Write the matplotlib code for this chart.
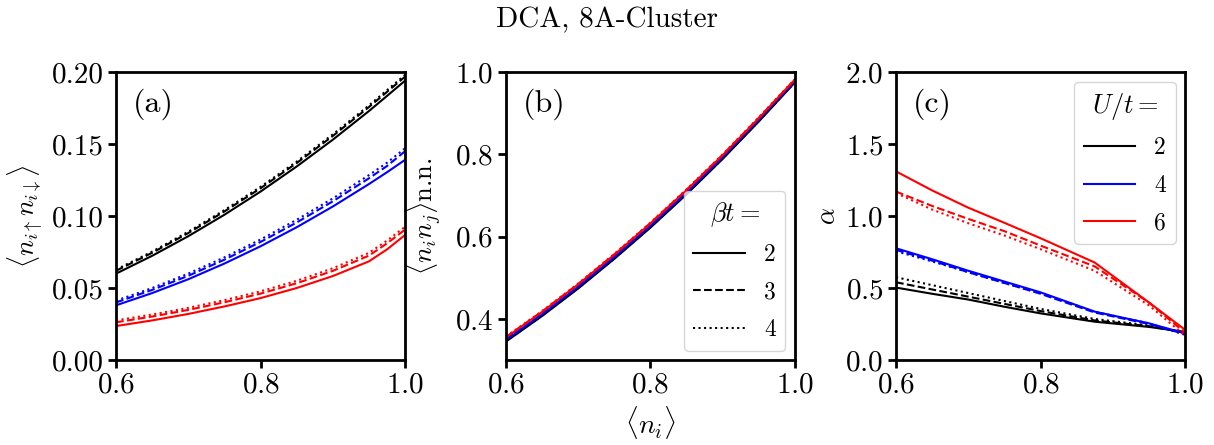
import numpy as np
import matplotlib
matplotlib.use("Agg")
import matplotlib.pyplot as plt
from matplotlib.lines import Line2D

plt.rcParams['font.family'] = 'serif'
plt.rcParams['font.serif'] = ['cmr10', 'DejaVu Serif']
plt.rcParams['mathtext.fontset'] = 'cm'
plt.rcParams['axes.unicode_minus'] = False
plt.rcParams['axes.formatter.use_mathtext'] = True
plt.rcParams['font.size'] = 20

# (a) double occupancy, x = filling
docc_x = [0.6, 0.65, 0.7, 0.75, 0.8, 0.85, 0.9, 0.95, 0.975, 1.0]
docc_u2_b2 = [0.0600, 0.0724, 0.0860, 0.1009, 0.1170, 0.1344, 0.1530, 0.1729, 0.1834, 0.1940]
docc_u2_b3 = [0.0620, 0.0745, 0.0882, 0.1032, 0.1193, 0.1368, 0.1556, 0.1757, 0.1862, 0.1968]
docc_u2_b4 = [0.0628, 0.0753, 0.0891, 0.1041, 0.1203, 0.1378, 0.1567, 0.1768, 0.1874, 0.1980]
docc_u4_b2 = [0.0380, 0.0465, 0.0561, 0.0670, 0.0790, 0.0922, 0.1066, 0.1222, 0.1304, 0.1390]
docc_u4_b3 = [0.0400, 0.0487, 0.0585, 0.0697, 0.0820, 0.0955, 0.1102, 0.1262, 0.1347, 0.1450]
docc_u4_b4 = [0.0412, 0.0500, 0.0600, 0.0713, 0.0837, 0.0974, 0.1122, 0.1284, 0.1370, 0.1470]
docc_u6_b2 = [0.0236, 0.0275, 0.0320, 0.0372, 0.0430, 0.0500, 0.0583, 0.0685, 0.0768, 0.0868]
docc_u6_b3 = [0.0262, 0.0302, 0.0348, 0.0401, 0.0461, 0.0533, 0.0619, 0.0725, 0.0810, 0.0905]
docc_u6_b4 = [0.0275, 0.0316, 0.0362, 0.0416, 0.0477, 0.0550, 0.0637, 0.0744, 0.0829, 0.0925]

# (b) nearest neighbour density correlation
nn_x = [0.6, 0.65, 0.7, 0.75, 0.8, 0.85, 0.9, 0.95, 1.0]
nn_u2_b2 = [0.345, 0.407, 0.474, 0.546, 0.622, 0.703, 0.789, 0.880, 0.975]
nn_u2_b3 = [0.346, 0.408, 0.475, 0.547, 0.623, 0.704, 0.790, 0.881, 0.976]
nn_u2_b4 = [0.347, 0.409, 0.476, 0.548, 0.624, 0.705, 0.791, 0.882, 0.976]
nn_u4_b2 = [0.349, 0.411, 0.478, 0.550, 0.626, 0.707, 0.793, 0.884, 0.978]
nn_u4_b3 = [0.350, 0.412, 0.479, 0.551, 0.627, 0.708, 0.794, 0.885, 0.978]
nn_u4_b4 = [0.351, 0.413, 0.480, 0.552, 0.628, 0.709, 0.795, 0.885, 0.979]
nn_u6_b2 = [0.355, 0.417, 0.484, 0.556, 0.632, 0.713, 0.798, 0.888, 0.982]
nn_u6_b3 = [0.356, 0.418, 0.485, 0.557, 0.633, 0.714, 0.799, 0.889, 0.982]
nn_u6_b4 = [0.357, 0.419, 0.486, 0.558, 0.634, 0.715, 0.800, 0.890, 0.983]

# (c) alpha
al_x = [0.6, 0.65, 0.7, 0.75, 0.8, 0.875, 0.95, 1.0]
al_u2_b2 = [0.503, 0.460, 0.420, 0.370, 0.324, 0.266, 0.230, 0.195]
al_u2_b3 = [0.540, 0.490, 0.440, 0.390, 0.340, 0.275, 0.235, 0.190]
al_u2_b4 = [0.575, 0.520, 0.465, 0.410, 0.355, 0.285, 0.240, 0.190]
al_u4_b2 = [0.776, 0.700, 0.620, 0.545, 0.470, 0.336, 0.255, 0.185]
al_u4_b3 = [0.765, 0.690, 0.610, 0.535, 0.460, 0.330, 0.250, 0.180]
al_u4_b4 = [0.755, 0.685, 0.610, 0.535, 0.465, 0.335, 0.255, 0.175]
al_u6_b2 = [1.310, 1.178, 1.058, 0.953, 0.846, 0.677, 0.400, 0.210]
al_u6_b3 = [1.170, 1.070, 0.980, 0.895, 0.795, 0.650, 0.400, 0.190]
al_u6_b4 = [1.160, 1.045, 0.950, 0.865, 0.770, 0.620, 0.380, 0.170]

colors = ['black', 'blue', 'red']
styles = ['-', '--', ':']
u_vals = ['2', '4', '6']
beta_vals = ['2', '3', '4']

fig = plt.figure(figsize=(12.14, 4.45), dpi=100)
w, h, bot = 0.238, 0.647, 0.191
ax_a = fig.add_axes([0.0956, bot, w, h])
ax_b = fig.add_axes([0.4168, bot, w, h])
ax_c = fig.add_axes([0.7381, bot, w, h])

data_a = [[docc_u2_b2, docc_u2_b3, docc_u2_b4],
          [docc_u4_b2, docc_u4_b3, docc_u4_b4],
          [docc_u6_b2, docc_u6_b3, docc_u6_b4]]
data_b = [[nn_u2_b2, nn_u2_b3, nn_u2_b4],
          [nn_u4_b2, nn_u4_b3, nn_u4_b4],
          [nn_u6_b2, nn_u6_b3, nn_u6_b4]]
data_c = [[al_u2_b2, al_u2_b3, al_u2_b4],
          [al_u4_b2, al_u4_b3, al_u4_b4],
          [al_u6_b2, al_u6_b3, al_u6_b4]]

for ax, xs, data in [(ax_a, docc_x, data_a), (ax_b, nn_x, data_b), (ax_c, al_x, data_c)]:
    for ci, rows in enumerate(data):
        for si, ys in enumerate(rows):
            ax.plot(xs, ys, color=colors[ci], ls=styles[si], lw=1.5)
    ax.set_xlim(0.6, 1.0)
    ax.set_xticks([0.6, 0.8, 1.0])
    ax.tick_params(width=2, length=6, labelsize=21, pad=3)
    for sp in ax.spines.values():
        sp.set_linewidth(2)

lab_kw = dict(fontsize=23, va='center')

ax_a.set_ylim(0, 0.2)
ax_a.set_yticks([0.0, 0.05, 0.10, 0.15, 0.20])
ax_a.set_yticklabels(['0.00', '0.05', '0.10', '0.15', '0.20'])
ax_a.set_ylabel(r'$\langle n_{i\uparrow} n_{i\downarrow}\rangle$', fontsize=19)
ax_a.text(0.058, 0.89, '(a)', transform=ax_a.transAxes, **lab_kw)

ax_b.set_ylim(0.3, 1.0)
ax_b.set_yticks([0.4, 0.6, 0.8, 1.0])
ax_b.set_ylabel(r'$\langle n_i n_j \rangle$n.n.', fontsize=19, labelpad=8)
ax_b.set_xlabel(r'$\langle n_i \rangle$', fontsize=20)
ax_b.text(0.058, 0.89, '(b)', transform=ax_b.transAxes, **lab_kw)
hb = [Line2D([], [], color='black', ls=s, lw=1.5) for s in styles]
ax_b.legend(hb, beta_vals, title=r'$\beta t =$', loc='lower right',
            fontsize=17, title_fontsize=19, handlelength=2.2,
            labelspacing=0.65, borderaxespad=0.4)

ax_c.set_ylim(0, 2.0)
ax_c.set_yticks([0.0, 0.5, 1.0, 1.5, 2.0])
ax_c.set_ylabel(r'$\alpha$', fontsize=19)
ax_c.text(0.058, 0.89, '(c)', transform=ax_c.transAxes, **lab_kw)
hc = [Line2D([], [], color=c, ls='-', lw=1.5) for c in colors]
ax_c.legend(hc, u_vals, title=r'$U/t =$', loc='upper right',
            fontsize=17, title_fontsize=19, handlelength=2.2,
            labelspacing=0.65, borderaxespad=0.4)

fig.suptitle('DCA, 8A-Cluster', fontsize=21, y=0.985)
fig.savefig('out.png', dpi=100)
